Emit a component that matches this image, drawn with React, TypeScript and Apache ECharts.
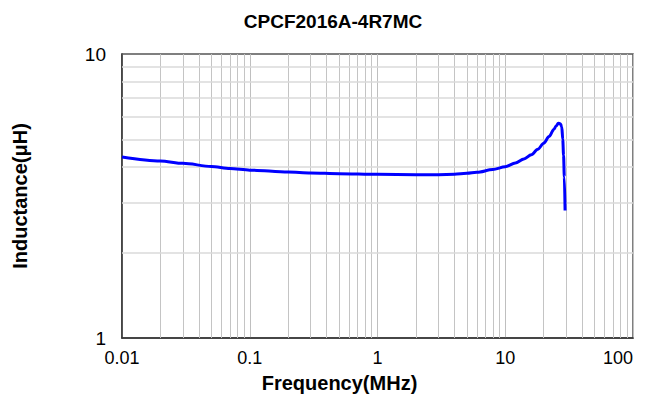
import React, { useEffect, useRef } from "react";
import * as echarts from "echarts";

const chartTitle = "CPCF2016A-4R7MC";
const xAxisName = "Frequency(MHz)";
const yAxisName = "Inductance(μH)";

const freqMHz = [0.01, 0.02, 0.03, 0.05, 0.07, 0.1, 0.2, 0.3, 0.5, 1, 2, 3, 4, 5, 6, 8, 10, 12, 14, 16, 18, 20, 22, 24, 25, 26, 27, 27.7, 28.2, 28.6, 29, 29.4];
const inductanceUH = [4.34, 4.2, 4.12, 4.02, 3.95, 3.9, 3.84, 3.81, 3.79, 3.77, 3.76, 3.76, 3.77, 3.8, 3.83, 3.92, 4.01, 4.13, 4.27, 4.42, 4.62, 4.85, 5.12, 5.42, 5.58, 5.7, 5.68, 5.54, 5.0, 4.4, 3.69, 2.81];

const xMinorGrid = [
  0.02, 0.03, 0.04, 0.05, 0.06, 0.07, 0.08, 0.09,
  0.2, 0.3, 0.4, 0.5, 0.6, 0.7, 0.8, 0.9,
  2, 3, 4, 5, 6, 7, 8, 9,
  20, 30, 40, 50, 60, 70, 80, 90,
];
const yMinorGrid = [2, 3, 4, 5, 6, 7, 8, 9];

export default function App() {
  const ref = useRef<HTMLDivElement>(null);
  useEffect(() => {
    if (!ref.current) return;
    const chart = echarts.init(ref.current, null, { renderer: "svg" });
    const font = "'Liberation Sans', Arial, sans-serif";
    chart.setOption({
      animation: false,
      title: {
        text: chartTitle,
        left: 328,
        textAlign: "center",
        top: 7,
        textStyle: { fontFamily: font, fontSize: 19, fontWeight: "bold", color: "#000" },
      },
      grid: {
        left: 122,
        right: 16,
        top: 54,
        bottom: 62,
        show: true,
        borderColor: "#555",
        borderWidth: 1.5,
        backgroundColor: "#fff",
      },
      xAxis: {
        type: "log",
        logBase: 10,
        min: 0.01,
        max: 100,
        name: xAxisName,
        nameLocation: "middle",
        nameGap: 35,
        nameTextStyle: { fontFamily: font, fontSize: 20, fontWeight: "bold", color: "#000", padding: [0, 76, 0, 0] },
        axisLine: { show: true, lineStyle: { color: "#333", width: 1.5 } },
        axisTick: { show: false },
        axisLabel: { fontFamily: font, fontSize: 18, color: "#000", margin: 11, alignMaxLabel: "right" },
        splitLine: { show: true, lineStyle: { color: "#bfbfbf", width: 1 } },
      },
      yAxis: {
        type: "log",
        logBase: 10,
        min: 1,
        max: 10,
        name: yAxisName,
        nameLocation: "middle",
        nameGap: 92,
        nameRotate: 90,
        nameTextStyle: { fontFamily: font, fontSize: 20, fontWeight: "bold", color: "#000" },
        axisLine: { show: true, lineStyle: { color: "#333", width: 1.5 } },
        axisTick: { show: false },
        axisLabel: { fontFamily: font, fontSize: 19, color: "#000", margin: 16 },
        splitLine: { show: false },
      },
      series: [
        {
          type: "line",
          data: [[0.01, 1]],
          symbol: "none",
          lineStyle: { opacity: 0 },
          z: 1,
          silent: true,
          markLine: {
            silent: true,
            symbol: ["none", "none"],
            label: { show: false },
            animation: false,
            data: [
              ...xMinorGrid.map((v) => ({ xAxis: v, lineStyle: { color: "#c4c4c4", width: 1, type: "solid" } })),
              ...yMinorGrid.map((v) => ({ yAxis: v, lineStyle: { color: "#dadada", width: 1.5, type: "solid" } })),
            ],
          },
        },
        {
          type: "line",
          data: freqMHz.map((f, i) => [f, inductanceUH[i]]),
          symbol: "none",
          smooth: 0.3,
          smoothMonotone: "x",
          lineStyle: { color: "#0000ff", width: 3 },
          z: 5,
        },
      ],
    });
    return () => chart.dispose();
  }, []);
  return <div ref={ref} style={{ width: 649, height: 400, marginLeft: -8, marginTop: -8 }} />;
}
